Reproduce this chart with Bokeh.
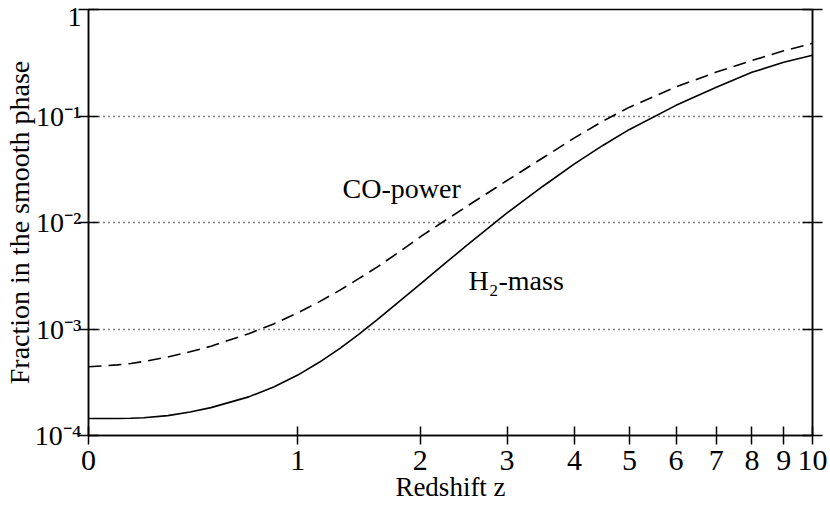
from bokeh.plotting import figure
from bokeh.models import FixedTicker, LogAxis, Label, Range1d
from bokeh.embed import file_html
from bokeh.resources import INLINE

# Redshift samples and fractions
z = [0, 0.1, 0.15, 0.2, 0.3, 0.4, 0.5, 0.7, 0.85, 1, 1.15, 1.3, 1.45, 1.6, 1.8,
     2, 2.25, 2.5, 3, 3.5, 4, 4.5, 5, 6, 7, 8, 9, 10]
h2_mass = [1.442e-4, 1.442e-4, 1.452e-4, 1.466e-4, 1.538e-4, 1.662e-4, 1.827e-4,
           2.305e-4, 2.871e-4, 3.692e-4, 4.894e-4, 6.574e-4, 8.94e-4, 1.216e-3,
           1.815e-3, 2.645e-3, 4.085e-3, 6.095e-3, 1.229e-2, 2.179e-2, 3.55e-2,
           5.32e-2, 7.48e-2, 0.1259, 0.1866, 0.257, 0.319, 0.372]
co_power = [4.415e-4, 4.60e-4, 4.75e-4, 4.95e-4, 5.46e-4, 6.11e-4, 6.89e-4,
            9.02e-4, 1.123e-3, 1.417e-3, 1.807e-3, 2.318e-3, 2.985e-3, 3.805e-3,
            5.30e-3, 7.32e-3, 1.033e-2, 1.417e-2, 2.479e-2, 4.03e-2, 6.23e-2,
            8.98e-2, 0.1211, 0.1875, 0.2583, 0.3317, 0.4095, 0.4813]

x_ticks = [0, 1, 2, 3, 4, 5, 6, 7, 8, 9, 10]
y_ticks = [1e-4, 1e-3, 1e-2, 1e-1, 1]
y_tick_labels = ["10\u207b\u2074", "10\u207b\u00b3", "10\u207b\u00b2", "10\u207b\u00b9", "1"]
grid_levels = [1e-3, 1e-2, 1e-1]

FONT = "Liberation Serif"
TEXT_FS = "28px"

p = figure(width=830, height=504, x_axis_type="log", y_axis_type="log",
           x_range=Range1d(1, 11), y_range=Range1d(1e-4, 1),
           output_backend="svg", toolbar_location=None,
           min_border_left=88, min_border_right=18, min_border_top=9, min_border_bottom=68)
p.background_fill_color = "white"
p.border_fill_color = "white"
p.outline_line_color = "black"
p.outline_line_width = 1.5

# x axis: positions follow log(1+z)
xa = p.xaxis[0]
xa.ticker = FixedTicker(ticks=[1 + v for v in x_ticks], minor_ticks=[])
xa.major_label_overrides = {1 + v: str(v) for v in x_ticks}
xa.major_tick_in = 9
xa.major_tick_out = 9
xa.minor_tick_line_color = None
xa.axis_line_width = 1.5
xa.major_tick_line_width = 1.5
xa.major_label_standoff = 6
xa.major_label_text_font = FONT
xa.major_label_text_font_size = "30px"
xa.major_label_text_color = "black"
xa.axis_label = "Redshift z"
xa.axis_label_text_font = FONT
xa.axis_label_text_font_size = "27px"
xa.axis_label_text_font_style = "normal"
xa.axis_label_text_color = "black"
xa.axis_label_standoff = -1

ya = p.yaxis[0]
ya.ticker = FixedTicker(ticks=y_ticks, minor_ticks=[])
ya.major_label_overrides = dict(zip(y_ticks, y_tick_labels))
ya.major_tick_in = 10
ya.major_tick_out = 10
ya.minor_tick_line_color = None
ya.axis_line_width = 1.5
ya.major_tick_line_width = 1.5
ya.major_label_standoff = -3
ya.major_label_text_font = FONT
ya.major_label_text_font_size = "28px"
ya.major_label_text_color = "black"
ya.axis_label = "Fraction in the smooth phase"
ya.axis_label_text_font = FONT
ya.axis_label_text_font_size = "28px"
ya.axis_label_text_font_style = "normal"
ya.axis_label_text_color = "black"
ya.axis_label_standoff = -3

ra = LogAxis(ticker=FixedTicker(ticks=y_ticks, minor_ticks=[]))
ra.major_tick_in = 10
ra.major_tick_out = 10
ra.minor_tick_line_color = None
ra.axis_line_width = 1.5
ra.major_tick_line_width = 1.5
ra.major_label_text_font_size = "1px"
ra.major_label_text_color = None
ra.major_label_standoff = 0
p.add_layout(ra, "right")

p.xgrid.visible = False
p.ygrid.ticker = FixedTicker(ticks=grid_levels, minor_ticks=[])
p.ygrid.grid_line_color = "black"
p.ygrid.grid_line_width = 1.3
p.ygrid.grid_line_dash = "1 4"

xs = [1 + v for v in z]
p.line(xs, h2_mass, line_color="black", line_width=1.6)
p.line(xs, co_power, line_color="black", line_width=1.6, line_dash="13 7")

# curve annotations
p.add_layout(Label(x=2.32, y=0.0208, text="CO-power", text_font=FONT,
                   text_font_size=TEXT_FS, text_color="black", text_baseline="alphabetic"))
p.add_layout(Label(x=3.52, y=2.87e-3, text="H\u2082-mass", text_font=FONT,
                   text_font_size=TEXT_FS, text_color="black", text_baseline="alphabetic"))

open("out.html", "w").write(file_html(p, INLINE))
